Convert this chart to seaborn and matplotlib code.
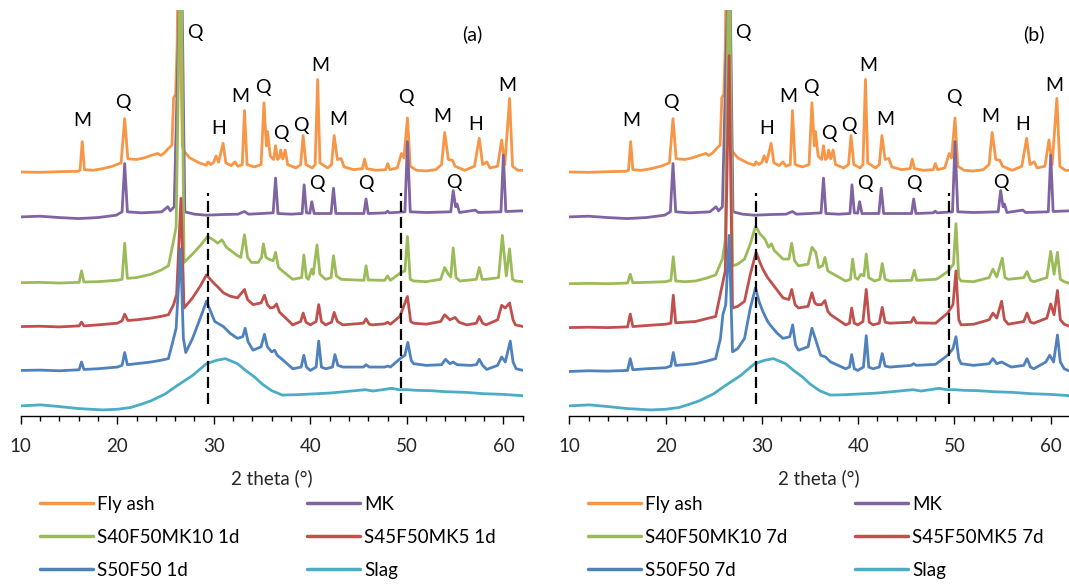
import numpy as np
import pandas as pd
import seaborn as sns
import matplotlib.pyplot as plt
from matplotlib.lines import Line2D
from matplotlib.ticker import MultipleLocator

# ---------------------------------------------------------------------------
# XRD traces: (2 theta in degrees, stacked intensity in a.u.)
# ---------------------------------------------------------------------------
fly_ash = [
    (10.0, 723), (12.0, 722), (14.0, 724), (15.9, 725), (16.15, 728), (16.37, 813), (16.6, 730),
    (17.5, 728), (18.5, 733), (19.5, 740), (20.4, 750), (20.77, 881), (21.1, 762), (22.0, 760),
    (22.8, 765), (23.5, 772), (24.2, 778), (24.5, 772), (24.9, 780), (25.3, 793), (25.67, 803),
    (25.84, 943), (26.05, 953), (26.2, 1093), (26.35, 1450), (26.75, 800), (26.95, 783),
    (27.5, 765), (28.5, 750), (29.24, 743), (29.4, 753), (29.7, 745), (30.0, 752), (30.24, 771),
    (30.5, 752), (30.96, 808), (31.25, 750), (31.8, 742), (32.2, 753), (32.5, 740), (32.95, 745),
    (33.18, 905), (33.45, 745), (34.2, 738), (34.9, 745), (35.2, 928), (35.45, 800), (35.57, 843),
    (35.85, 770), (36.2, 760), (36.4, 801), (36.6, 760), (36.8, 765), (36.93, 788), (37.15, 762),
    (37.4, 788), (37.65, 745), (38.5, 735), (39.0, 745), (39.26, 831), (39.55, 745), (40.2, 735),
    (40.5, 745), (40.76, 997), (41.0, 750), (41.8, 735), (42.2, 745), (42.47, 831), (42.8, 760),
    (43.19, 763), (43.5, 738), (44.5, 730), (45.4, 733), (45.62, 761), (45.85, 733), (46.8, 728),
    (47.8, 730), (48.02, 748), (48.25, 730), (49.0, 735), (49.45, 778), (49.7, 765), (50.06, 883),
    (50.35, 740), (51.0, 728), (52.0, 726), (53.0, 730), (53.6, 745), (53.92, 840), (54.3, 760),
    (54.71, 758), (55.0, 740), (56.0, 728), (57.0, 740), (57.5, 823), (57.85, 745), (58.28, 753),
    (58.6, 735), (59.4, 740), (59.82, 818), (60.15, 745), (60.64, 941), (60.95, 740), (61.5, 728),
    (62.07, 728),
]

mk = [
    (10.0, 590), (12.0, 592), (14.0, 588), (16.0, 585), (18.0, 588), (19.9, 595), (20.5, 605),
    (20.77, 748), (21.05, 605), (22.5, 602), (24.0, 604), (24.6, 605), (25.24, 620), (25.5, 608),
    (25.9, 620), (26.62, 1450), (27.0, 605), (28.0, 598), (29.24, 595), (31.0, 597), (32.5, 598),
    (33.18, 606), (33.6, 598), (35.0, 600), (36.15, 602), (36.4, 705), (36.65, 600), (38.0, 598),
    (39.15, 600), (39.36, 685), (39.6, 602), (39.95, 601), (40.15, 635), (40.4, 600), (42.15, 600),
    (42.4, 675), (42.65, 600), (45.55, 600), (45.77, 643), (46.0, 600), (47.8, 602), (48.0, 607),
    (48.2, 602), (49.8, 605), (50.06, 813), (50.35, 605), (52.0, 603), (54.55, 605), (54.8, 668),
    (55.05, 620), (55.2, 628), (55.45, 603), (57.1, 610), (57.4, 603), (59.75, 605), (60.0, 773),
    (60.25, 606), (62.07, 608),
]

slag = [
    (10.0, 30), (12.07, 33), (14.0, 28), (16.0, 22), (18.5, 18), (20.0, 20), (21.37, 25),
    (22.5, 35), (23.5, 45), (24.95, 65), (26.2, 90), (27.8, 120), (29.24, 155), (30.3, 165),
    (31.2, 170), (32.46, 155), (33.3, 135), (34.25, 115), (35.0, 95), (36.0, 75), (37.1, 62),
    (38.5, 63), (40.0, 65), (42.0, 68), (43.55, 72), (45.7, 78), (46.5, 74), (47.5, 78),
    (48.38, 82), (49.2, 78), (50.0, 78), (51.0, 76), (52.5, 75), (54.0, 72), (56.07, 70),
    (58.0, 66), (60.0, 64), (62.07, 60),
]

s40f50mk10_1d = [
    (10.0, 395), (12.0, 396), (14.0, 394), (16.05, 396), (16.3, 430), (16.55, 397), (18.0, 398),
    (19.94, 402), (20.5, 405), (20.77, 512), (21.05, 408), (22.0, 410), (23.5, 420), (24.5, 432),
    (25.3, 445), (25.77, 510), (26.1, 560), (26.58, 1450), (26.92, 455), (27.8, 480), (28.6, 505),
    (29.35, 532), (29.96, 522), (30.4, 512), (30.85, 522), (31.3, 500), (32.0, 485), (32.46, 475),
    (32.8, 470), (33.18, 537), (33.5, 470), (33.9, 455), (34.6, 455), (34.95, 470), (35.14, 510),
    (35.4, 470), (35.68, 465), (36.15, 460), (36.4, 485), (36.7, 440), (37.1, 430), (38.18, 405),
    (39.1, 410), (39.33, 477), (39.6, 410), (39.8, 405), (40.15, 435), (40.3, 420), (40.69, 507),
    (41.0, 420), (41.58, 405), (42.15, 410), (42.4, 475), (42.7, 415), (43.19, 405), (45.55, 402),
    (45.77, 445), (46.0, 403), (47.7, 402), (48.0, 415), (48.3, 402), (49.38, 425), (49.8, 430),
    (50.06, 532), (50.35, 405), (50.7, 400), (52.0, 398), (53.5, 405), (53.92, 440), (54.3, 420),
    (54.55, 412), (54.8, 498), (55.1, 410), (55.5, 400), (57.2, 405), (57.5, 440), (57.8, 405),
    (58.2, 405), (59.5, 410), (59.89, 535), (60.3, 415), (60.64, 495), (60.95, 405), (61.25, 400),
    (62.07, 398),
]

s45f50mk5_1d = [
    (10.0, 265), (12.0, 266), (14.0, 264), (16.05, 267), (16.3, 278), (16.55, 267), (18.0, 270),
    (20.0, 275), (20.5, 282), (20.77, 302), (21.1, 283), (22.0, 285), (23.5, 290), (24.5, 295),
    (25.3, 300), (25.84, 330), (26.15, 360), (26.6, 645), (26.92, 320), (27.8, 350), (28.6, 385),
    (29.24, 418), (29.96, 395), (30.5, 380), (31.0, 365), (31.7, 355), (32.46, 350), (33.18, 375),
    (33.5, 345), (34.07, 330), (34.9, 335), (35.25, 358), (35.55, 330), (35.86, 320), (36.2, 322),
    (36.5, 332), (36.8, 308), (37.1, 300), (38.18, 270), (39.0, 280), (39.26, 305), (39.55, 278),
    (40.0, 270), (40.6, 280), (40.87, 330), (41.15, 280), (41.58, 270), (42.2, 278), (42.47, 307),
    (42.8, 280), (43.37, 270), (45.5, 275), (45.77, 288), (46.1, 272), (46.4, 270), (47.7, 273),
    (48.0, 278), (48.3, 272), (49.27, 295), (50.06, 354), (50.4, 280), (50.7, 275), (52.0, 272),
    (53.5, 280), (53.92, 300), (54.46, 285), (55.0, 292), (55.4, 278), (56.2, 270), (57.2, 275),
    (57.5, 295), (57.85, 275), (58.2, 270), (59.4, 285), (59.82, 328), (60.2, 320), (60.64, 335),
    (61.0, 285), (61.25, 270), (62.07, 265),
]

s50f50_1d = [
    (10.0, 135), (12.0, 136), (14.0, 134), (16.05, 137), (16.3, 160), (16.55, 138), (18.0, 140),
    (20.0, 145), (20.5, 150), (20.77, 188), (21.05, 152), (22.0, 155), (23.5, 160), (24.5, 165),
    (25.3, 170), (25.84, 230), (26.1, 260), (26.56, 495), (26.85, 230), (27.1, 188), (27.8, 230),
    (28.6, 290), (29.24, 340), (30.1, 280), (31.0, 265), (31.7, 245), (32.46, 230), (33.0, 235),
    (33.25, 260), (33.55, 220), (34.07, 195), (34.9, 205), (35.25, 242), (35.55, 205), (36.0, 190),
    (36.3, 195), (36.57, 180), (37.2, 165), (38.18, 140), (39.05, 145), (39.33, 180), (39.6, 145),
    (40.0, 135), (40.6, 145), (40.87, 222), (41.15, 145), (41.58, 140), (42.3, 145), (42.55, 182),
    (42.85, 150), (43.37, 145), (45.5, 145), (45.77, 152), (46.1, 145), (47.7, 145), (48.0, 148),
    (48.3, 145), (49.38, 172), (49.8, 180), (50.1, 218), (50.45, 165), (50.7, 155), (52.0, 150),
    (53.6, 152), (54.0, 168), (54.46, 155), (54.8, 160), (55.2, 152), (56.6, 150), (57.2, 152),
    (57.5, 168), (57.85, 150), (58.28, 138), (59.4, 150), (59.82, 175), (60.2, 160), (60.71, 222),
    (61.0, 160), (61.32, 140), (62.07, 135),
]

s40f50mk10_7d = [
    (10.0, 392), (12.0, 393), (14.0, 392), (16.05, 394), (16.33, 420), (16.6, 395), (18.0, 396),
    (20.0, 398), (20.55, 402), (20.8, 472), (21.05, 400), (22.0, 398), (23.1, 400), (24.2, 408),
    (25.2, 418), (25.9, 465), (26.2, 520), (26.6, 1450), (26.95, 445), (27.5, 450), (28.2, 465),
    (28.8, 510), (29.34, 562), (29.8, 540), (30.3, 525), (30.7, 500), (31.0, 510), (31.3, 490),
    (32.2, 465), (32.8, 465), (33.1, 512), (33.4, 460), (33.8, 445), (34.8, 450), (35.2, 500),
    (35.6, 485), (35.9, 440), (36.3, 445), (36.55, 470), (36.85, 430), (37.15, 425), (38.7, 400),
    (39.2, 405), (39.43, 465), (39.7, 410), (39.96, 405), (40.3, 420), (40.6, 415), (40.84, 480),
    (41.1, 410), (41.7, 400), (42.25, 405), (42.5, 452), (42.8, 405), (43.3, 400), (45.55, 402),
    (45.83, 432), (46.1, 402), (48.04, 405), (48.3, 408), (49.3, 428), (49.9, 450), (50.16, 570),
    (50.45, 410), (50.7, 400), (52.0, 398), (53.6, 410), (54.0, 435), (54.4, 412), (54.97, 468),
    (55.25, 410), (55.6, 405), (57.2, 410), (57.54, 428), (57.9, 402), (58.24, 398), (59.6, 410),
    (60.0, 488), (60.35, 420), (60.7, 485), (61.0, 405), (61.4, 398), (62.04, 392),
]

s45f50mk5_7d = [
    (10.0, 262), (12.0, 263), (14.0, 262), (16.05, 264), (16.33, 302), (16.6, 265), (18.0, 268),
    (20.0, 272), (20.55, 275), (20.8, 358), (21.05, 276), (22.0, 278), (23.1, 280), (24.2, 288),
    (25.2, 295), (25.9, 390), (26.2, 430), (26.6, 1068), (26.95, 320), (27.5, 325), (28.2, 340),
    (28.8, 420), (29.4, 485), (29.8, 455), (30.1, 435), (30.6, 410), (31.0, 395), (31.4, 380),
    (32.2, 350), (32.8, 345), (33.1, 375), (33.45, 330), (33.8, 320), (34.8, 325), (35.2, 365),
    (35.5, 335), (35.74, 330), (36.2, 330), (36.55, 342), (36.85, 310), (37.15, 300), (38.7, 270),
    (39.1, 275), (39.33, 320), (39.6, 275), (39.96, 270), (40.5, 280), (40.84, 375), (41.15, 278),
    (41.54, 270), (42.2, 275), (42.5, 322), (42.8, 278), (43.3, 275), (45.5, 278), (45.76, 292),
    (46.05, 276), (48.04, 275), (49.3, 305), (49.85, 330), (50.16, 430), (50.45, 285), (50.7, 270),
    (52.0, 272), (53.6, 285), (54.0, 305), (54.4, 290), (54.9, 340), (55.2, 285), (55.6, 272),
    (57.2, 280), (57.54, 305), (57.9, 278), (58.24, 275), (59.6, 290), (60.0, 332), (60.35, 300),
    (60.7, 372), (61.0, 285), (61.4, 272), (62.04, 265),
]

s50f50_7d = [
    (10.0, 132), (12.0, 134), (14.0, 133), (16.05, 135), (16.33, 170), (16.6, 137), (18.0, 140),
    (20.0, 143), (20.55, 148), (20.8, 188), (21.05, 150), (22.0, 152), (23.1, 155), (24.2, 162),
    (25.2, 170), (25.7, 230), (25.95, 300), (26.25, 330), (26.6, 535), (26.95, 190), (27.5, 200),
    (28.2, 230), (28.8, 320), (29.34, 380), (29.7, 340), (30.1, 310), (30.6, 280), (31.0, 265),
    (31.6, 245), (32.2, 230), (32.9, 235), (33.2, 270), (33.5, 210), (33.8, 195), (34.8, 205),
    (35.2, 260), (35.6, 225), (36.1, 180), (36.6, 175), (37.15, 160), (38.7, 140), (39.1, 145),
    (39.33, 182), (39.6, 140), (39.96, 135), (40.55, 145), (40.84, 238), (41.1, 145), (41.54, 140),
    (42.2, 145), (42.5, 185), (42.8, 148), (43.3, 145), (45.5, 150), (45.76, 155), (46.05, 150),
    (48.04, 153), (49.3, 180), (49.85, 200), (50.16, 235), (50.45, 170), (50.7, 155), (52.0, 150),
    (53.6, 155), (54.0, 170), (54.4, 155), (54.9, 160), (55.9, 145), (57.2, 150), (57.54, 170),
    (57.9, 145), (58.24, 140), (59.5, 160), (59.9, 180), (60.3, 160), (60.7, 240), (61.0, 160),
    (61.4, 140), (62.04, 132),
]

# phase labels: (text, 2 theta, height)
phase_labels = [
    ("M", 16.4, 875), ("Q", 20.55, 928), ("Q", 28.05, 1135), ("H", 30.5, 853), ("M", 32.7, 948),
    ("Q", 35.1, 973), ("Q", 37.0, 838), ("Q", 39.0, 861), ("M", 41.0, 1038), ("M", 42.85, 878),
    ("Q", 49.9, 943), ("M", 53.7, 888), ("H", 57.1, 863), ("M", 60.4, 978),
    ("Q", 40.7, 688), ("Q", 45.8, 688), ("Q", 54.85, 693),
]

dashed_positions = [29.4, 49.4]

panels = {
    "(a)": ["Fly ash", "MK", "S40F50MK10 1d", "S45F50MK5 1d", "S50F50 1d", "Slag"],
    "(b)": ["Fly ash", "MK", "S40F50MK10 7d", "S45F50MK5 7d", "S50F50 7d", "Slag"],
}
series = {
    "Fly ash": fly_ash, "MK": mk, "Slag": slag,
    "S40F50MK10 1d": s40f50mk10_1d, "S45F50MK5 1d": s45f50mk5_1d, "S50F50 1d": s50f50_1d,
    "S40F50MK10 7d": s40f50mk10_7d, "S45F50MK5 7d": s45f50mk5_7d, "S50F50 7d": s50f50_7d,
}
colors = ["#F79646", "#8064A2", "#9BBB59", "#C0504D", "#4F81BD", "#4BACC6"]

# ---------------------------------------------------------------------------
sns.set_theme(style="white")
plt.rcParams["font.family"] = ["Lato", "DejaVu Sans"]
plt.rcParams["text.color"] = "#000000"

fig = plt.figure(figsize=(10.69, 5.85), dpi=100)
axes_rects = [
    [20.7 / 1069, 169 / 585, 502 / 1069, 406 / 585],
    [569.3 / 1069, 169 / 585, 499.7 / 1069, 406 / 585],
]
xmax = [62.0, 61.9]
legend_x = [40 / 1069, 588 / 1069]

for (tag, names), rect, xm, lx in zip(panels.items(), axes_rects, xmax, legend_x):
    ax = fig.add_axes(rect)
    frames = []
    for name in names:
        pts = np.array(series[name], dtype=float)
        frames.append(pd.DataFrame({"theta": pts[:, 0], "I": pts[:, 1], "sample": name}))
    df = pd.concat(frames, ignore_index=True)
    sns.lineplot(data=df, x="theta", y="I", hue="sample", hue_order=names,
                 palette=colors, estimator=None, sort=True, linewidth=2.0,
                 legend=False, ax=ax)

    ax.vlines(dashed_positions, 35, 660, colors="black", linewidth=1.6,
              linestyles=(0, (5, 2.2)), zorder=5)

    for txt, x, y in phase_labels:
        ax.text(x, y, txt, ha="center", va="center", fontsize=14)
    ax.text(56.8 if tag == "(a)" else 58.3, 1130, tag, ha="center", va="center", fontsize=14)

    ax.set_xlim(10, xm)
    ax.set_ylim(0, 1203)
    ax.xaxis.set_major_locator(MultipleLocator(10))
    ax.xaxis.set_minor_locator(MultipleLocator(2))
    ax.tick_params(axis="x", which="major", direction="out", length=6, width=1.0,
                   color="black", labelsize=13.5, pad=10, bottom=True)
    ax.tick_params(axis="x", which="minor", direction="out", length=3.5, width=1.0,
                   color="black", bottom=True)
    ax.set_yticks([])
    for side in ["left", "right", "top"]:
        ax.spines[side].set_visible(False)
    ax.spines["bottom"].set_color("black")
    ax.spines["bottom"].set_linewidth(1.0)
    ax.set_xlabel("2 theta (°)", fontsize=13.5, labelpad=10)
    ax.set_ylabel("")
    ax.patch.set_alpha(0)

    handles = [Line2D([], [], color=c, linewidth=2.5) for c in colors]
    order = [0, 2, 4, 1, 3, 5]
    fig.legend([handles[i] for i in order], [names[i] for i in order],
               loc="upper left", bbox_to_anchor=(lx, 1 - 496 / 585), ncol=2,
               frameon=False, fontsize=13.5, handlelength=2.8, handletextpad=0.25,
               labelspacing=0.85, columnspacing=3.6, borderaxespad=0, borderpad=0)

fig.savefig("out.png", dpi=100)
